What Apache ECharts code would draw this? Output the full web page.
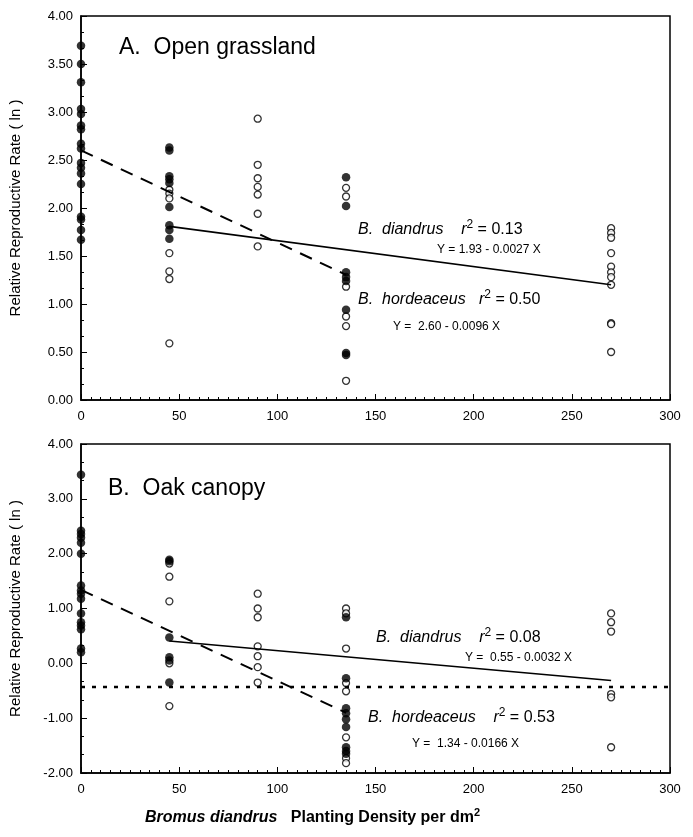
<!DOCTYPE html>
<html>
<head>
<meta charset="utf-8">
<script src="https://cdn.jsdelivr.net/npm/echarts@6/dist/echarts.min.js"></script>
<style>
  html, body { margin: 0; padding: 0; background: #fff; }
  #chart { width: 693px; height: 837px; }
</style>
</head>
<body>
<div id="chart"></div>
<script>
// Panel A: open grassland  [density, rate]
const openHordeaceus = [
  [0, 3.69], [0, 3.50], [0, 3.31], [0, 3.03], [0, 2.98], [0, 2.86], [0, 2.82], [0, 2.67], [0, 2.62],
  [0, 2.47], [0, 2.42], [0, 2.36], [0, 2.25], [0, 1.91], [0, 1.88], [0, 1.77], [0, 1.67],
  [45, 2.63], [45, 2.60], [45, 2.33], [45, 2.30], [45, 2.26], [45, 2.01], [45, 1.82], [45, 1.77], [45, 1.68],
  [135, 2.32], [135, 2.02], [135, 1.33], [135, 1.28], [135, 1.24], [135, 0.94], [135, 0.49], [135, 0.47]
]
const openDiandrus = [
  [45, 2.19], [45, 2.15], [45, 2.10], [45, 1.53], [45, 1.34], [45, 1.26], [45, 0.59],
  [90, 2.93], [90, 2.45], [90, 2.31], [90, 2.22], [90, 2.14], [90, 1.94], [90, 1.60],
  [135, 2.21], [135, 2.12], [135, 1.18], [135, 0.87], [135, 0.77], [135, 0.20],
  [270, 1.79], [270, 1.74], [270, 1.69], [270, 1.53], [270, 1.39], [270, 1.33], [270, 1.28], [270, 1.20],
  [270, 0.80], [270, 0.79], [270, 0.50]
]
// Panel B: oak canopy
const oakHordeaceus = [
  [0, 3.44], [0, 2.42], [0, 2.36], [0, 2.29], [0, 2.20], [0, 2.00], [0, 1.42], [0, 1.33], [0, 1.27],
  [0, 1.18], [0, 0.91], [0, 0.75], [0, 0.69], [0, 0.62], [0, 0.27], [0, 0.20],
  [45, 1.89], [45, 1.86], [45, 0.47], [45, 0.11], [45, 0.05], [45, -0.35],
  [135, 0.84], [135, -0.27], [135, -0.82], [135, -0.91], [135, -1.02], [135, -1.16], [135, -1.53], [135, -1.60], [135, -1.65]
]
const oakDiandrus = [
  [45, 1.82], [45, 1.58], [45, 1.13], [45, 0.00], [45, -0.78],
  [90, 1.27], [90, 1.00], [90, 0.84], [90, 0.31], [90, 0.13], [90, -0.07], [90, -0.35],
  [135, 1.00], [135, 0.91], [135, 0.27], [135, -0.36], [135, -0.51], [135, -1.35], [135, -1.73], [135, -1.82],
  [270, 0.91], [270, 0.75], [270, 0.58], [270, -0.56], [270, -0.62], [270, -1.53]
]
// regression fits: [intercept, slope, fromX, toX]
const openDiandrusFit = [1.93, -0.0027, 45, 270]
const openHordeaceusFit = [2.60, -0.0096, 0, 135]
const oakDiandrusFit = [0.55, -0.0032, 45, 270]
const oakHordeaceusFit = [1.34, -0.0166, 0, 135]
const oakRefLine = -0.43

const xTicks = { min: 0, max: 300, interval: 50 }

function fitLine(f) {
  return [[f[2], f[0] + f[1] * f[2]], [f[3], f[0] + f[1] * f[3]]]
}

const font = 'Liberation Sans, Arial, sans-serif'

function xAxisCfg(idx) {
  return {
    gridIndex: idx, type: 'value', min: xTicks.min, max: xTicks.max, interval: xTicks.interval,
    axisLine: { onZero: false, lineStyle: { color: '#000', width: 1.5 } },
    axisTick: { inside: true, length: 6, lineStyle: { color: '#000' } },
    minorTick: { show: true, splitNumber: 10, length: 3, lineStyle: { color: '#000' } },
    axisLabel: { color: '#000', fontSize: 13, fontFamily: font, margin: 10 },
    splitLine: { show: false }
  }
}
function yAxisCfg(idx, min, max, interval) {
  return {
    gridIndex: idx, type: 'value', min: min, max: max, interval: interval,
    name: 'Relative Reproductive Rate ( ln )', nameLocation: 'middle', nameGap: 58,
    nameTextStyle: { color: '#000', fontSize: 15, fontFamily: font },
    axisLine: { show: true, onZero: false, lineStyle: { color: '#000', width: 1.5 } },
    axisTick: { inside: true, length: 6, lineStyle: { color: '#000' } },
    minorTick: { show: true, splitNumber: 3, length: 3, lineStyle: { color: '#000' } },
    axisLabel: { color: '#000', fontSize: 13, fontFamily: font, margin: 8, formatter: v => v.toFixed(2) },
    splitLine: { show: false }
  }
}

const filled = { symbol: 'circle', symbolSize: 8.5, itemStyle: { color: '#000' } }
const hollow = { symbol: 'circle', symbolSize: 7, itemStyle: { color: '#fff', borderColor: '#000', borderWidth: 1.3 } }

const rich = {
  i: { fontStyle: 'italic', fontSize: 16, fontFamily: font, color: '#000' },
  n: { fontSize: 16, fontFamily: font, color: '#000' },
  sup: { fontSize: 12, fontFamily: font, color: '#000', padding: [0, 0, 10, 0] }
}
function label(x, y, txt, size) {
  return { type: 'text', x: x, y: y, z: 100,
    style: { text: txt, rich: rich, fill: '#000', font: (size || 16) + 'px ' + font, verticalAlign: 'middle' } }
}

const option = {
  animation: false,
  backgroundColor: '#fff',
  grid: [
    { left: 79, right: 23, top: 16, bottom: 437, show: true, borderColor: '#000', borderWidth: 1.5 },
    { left: 79, right: 23, top: 444, bottom: 64, show: true, borderColor: '#000', borderWidth: 1.5 }
  ],
  xAxis: [xAxisCfg(0), xAxisCfg(1)],
  yAxis: [yAxisCfg(0, 0, 4, 0.5), yAxisCfg(1, -2, 4, 1)],
  graphic: [
    label(119, 48, 'A.  Open grassland', 23),
    label(108, 489, 'B.  Oak canopy', 23),
    label(358, 230, '{i|B.  diandrus}{n|    }{i|r}{sup|2}{n| = 0.13}'),
    label(437, 250, 'Y = 1.93 - 0.0027 X', 12),
    label(358, 300, '{i|B.  hordeaceus}{n|   }{i|r}{sup|2}{n| = 0.50}'),
    label(393, 327, 'Y =  2.60 - 0.0096 X', 12),
    label(376, 638, '{i|B.  diandrus}{n|    }{i|r}{sup|2}{n| = 0.08}'),
    label(465, 658, 'Y =  0.55 - 0.0032 X', 12),
    label(368, 718, '{i|B.  hordeaceus}{n|    }{i|r}{sup|2}{n| = 0.53}'),
    label(412, 744, 'Y =  1.34 - 0.0166 X', 12),
    { type: 'text', x: 145, y: 818, style: {
        text: '{bi|Bromus diandrus}{b|   Planting Density per dm}{bs|2}',
        verticalAlign: 'middle',
        rich: {
          bi: { fontStyle: 'italic', fontWeight: 'bold', fontSize: 16, fontFamily: font, color: '#000' },
          b: { fontWeight: 'bold', fontSize: 16, fontFamily: font, color: '#000' },
          bs: { fontWeight: 'bold', fontSize: 11, fontFamily: font, color: '#000', padding: [0, 0, 10, 0] }
        } } }
  ],
  series: [
    { type: 'line', xAxisIndex: 0, yAxisIndex: 0, data: fitLine(openDiandrusFit), symbol: 'none',
      lineStyle: { color: '#000', width: 1.6 } },
    { type: 'line', xAxisIndex: 0, yAxisIndex: 0, data: fitLine(openHordeaceusFit), symbol: 'none',
      lineStyle: { color: '#000', width: 2, type: [13, 9] } },
    Object.assign({ type: 'scatter', xAxisIndex: 0, yAxisIndex: 0, data: openDiandrus }, hollow),
    Object.assign({ type: 'scatter', xAxisIndex: 0, yAxisIndex: 0, data: openHordeaceus }, filled),

    { type: 'line', xAxisIndex: 1, yAxisIndex: 1, data: [[xTicks.min, oakRefLine], [xTicks.max, oakRefLine]], symbol: 'none',
      lineStyle: { color: '#000', width: 2.5, type: [4, 7] } },
    { type: 'line', xAxisIndex: 1, yAxisIndex: 1, data: fitLine(oakDiandrusFit), symbol: 'none',
      lineStyle: { color: '#000', width: 1.6 } },
    { type: 'line', xAxisIndex: 1, yAxisIndex: 1, data: fitLine(oakHordeaceusFit), symbol: 'none',
      lineStyle: { color: '#000', width: 2, type: [13, 9] } },
    Object.assign({ type: 'scatter', xAxisIndex: 1, yAxisIndex: 1, data: oakDiandrus }, hollow),
    Object.assign({ type: 'scatter', xAxisIndex: 1, yAxisIndex: 1, data: oakHordeaceus }, filled)
  ]
}

const myChart = echarts.init(document.getElementById('chart'))
myChart.setOption(option)
</script>
</body>
</html>
